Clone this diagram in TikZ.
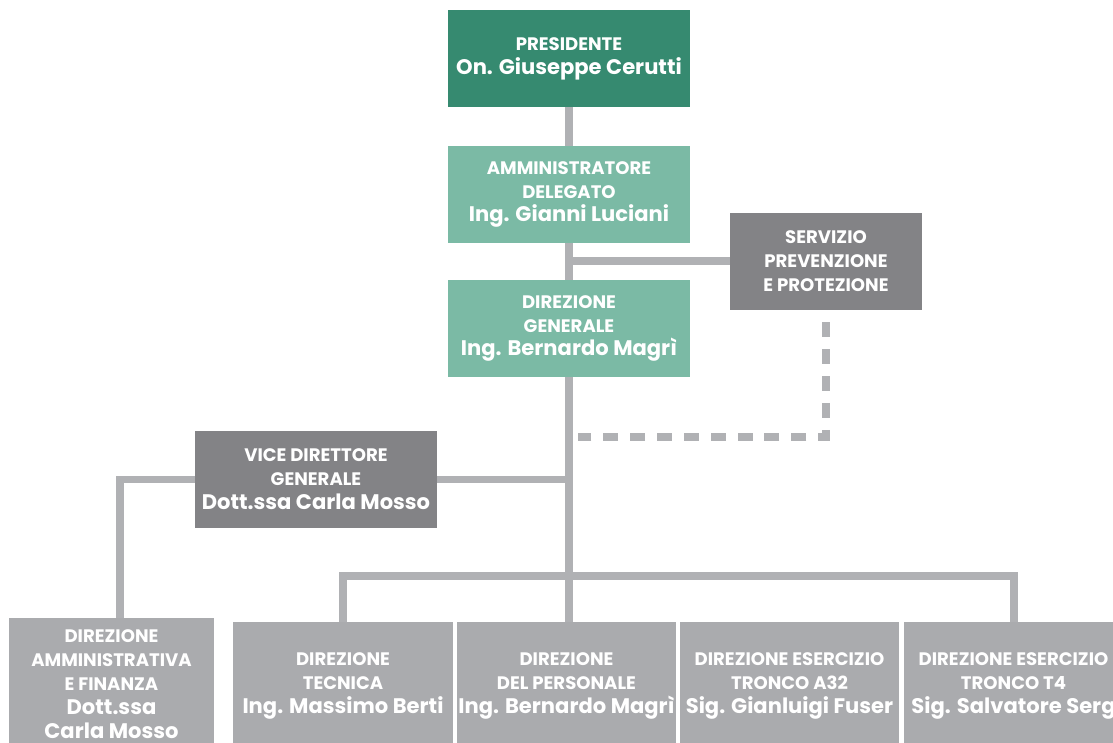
\documentclass[tikz,border=0pt]{standalone}
\usepackage{fontspec}
\setsansfont{Poppins}
\definecolor{PresGreen}{HTML}{368A70}
\definecolor{BoardGreen}{HTML}{7BBAA5}
\definecolor{StaffGray}{HTML}{838386}
\definecolor{UnitGray}{HTML}{AAABAE}
\definecolor{LinkGray}{HTML}{B0B1B4}
\usetikzlibrary{positioning, backgrounds}
\newcommand{\capline}[1]{{\fontsize{10.3}{13.6}\selectfont #1}}
\tikzset{
  % Box styles
  basebox/.style={rectangle, inner sep=0pt, text=white, align=center, minimum width=4.84cm, minimum height=1.94cm, font=\sffamily\bfseries\fontsize{12}{13.6}\selectfont},
  presbox/.style={basebox, fill=PresGreen},
  boardbox/.style={basebox, fill=BoardGreen},
  staffbox/.style={basebox, fill=StaffGray},
  unitbox/.style={basebox, fill=UnitGray, minimum width=4.4cm, minimum height=2.56cm},
  % Line styles
  link/.style={line width=0.16cm, LinkGray},
  dashlink/.style={line width=0.16cm, LinkGray, dash pattern=on 8.5pt off 6.8pt, dash phase=8.5pt}
}

\begin{document}
\begin{tikzpicture}[x=0.02cm, y=-0.02cm]
  \useasboundingbox (0,0) rectangle (1113,743);
  \clip (0,0) rectangle (1113,743);

  % Top of the chart
  \node[presbox] (pres) at (569,58.5) {\capline{PRESIDENTE}\\On. Giuseppe Cerutti};
  \node[boardbox] (amm) at (569,194.5) {\capline{AMMINISTRATORE}\\\capline{DELEGATO}\\Ing. Gianni Luciani};
  \node[boardbox] (dg) at (569,328.5) {\capline{DIREZIONE}\\\capline{GENERALE}\\Ing. Bernardo Magrì};

  % Staff
  \node[staffbox, minimum width=3.84cm] (spp) at (826,261.5) {\capline{SERVIZIO}\\\capline{PREVENZIONE}\\\capline{E PROTEZIONE}};
  \node[staffbox] (vdg) at (316,479.5) {\capline{VICE DIRETTORE}\\\capline{GENERALE}\\Dott.ssa Carla Mosso};

  % Directions
  \node[unitbox, minimum width=4.1cm, minimum height=2.64cm] (daf) at (111.5,684) {\capline{DIREZIONE}\\\capline{AMMINISTRATIVA}\\\capline{E FINANZA}\\Dott.ssa\\Carla Mosso};
  \node[unitbox] (dt) at (343,686) {\capline{DIREZIONE}\\\capline{TECNICA}\\Ing. Massimo Berti};
  \node[unitbox] (dp) at (566.5,686) {\capline{DIREZIONE}\\\capline{DEL PERSONALE}\\Ing. Bernardo Magrì};
  \node[unitbox] (de1) at (789.5,686) {\capline{DIREZIONE ESERCIZIO}\\\capline{TRONCO A32}\\Sig. Gianluigi Fuser};
  \node[unitbox] (de2) at (1013.5,686) {\capline{DIREZIONE ESERCIZIO}\\\capline{TRONCO T4}\\Sig. Salvatore Serg};

  \coordinate (bar) at (569,576);
  \coordinate (dashend) at (578,437);

  % Connectors
  \begin{scope}[on background layer]
    \draw[link] (pres) -- (amm);
    \draw[link] (amm) -- (dg);
    \draw[link] (spp.west) -- (spp.west -| amm.south);
    \draw[link] (dg.south) -- (dg.south |- dp.north);
    \draw[link] (dt.north) |- (bar) -| (de2.north);
    \draw[link] (vdg.center -| dg.south) -- (vdg.center) -| ([xshift=0.17cm]daf.north);
    \draw[dashlink] (spp.south) |- (dashend);
  \end{scope}
\end{tikzpicture}
\end{document}
